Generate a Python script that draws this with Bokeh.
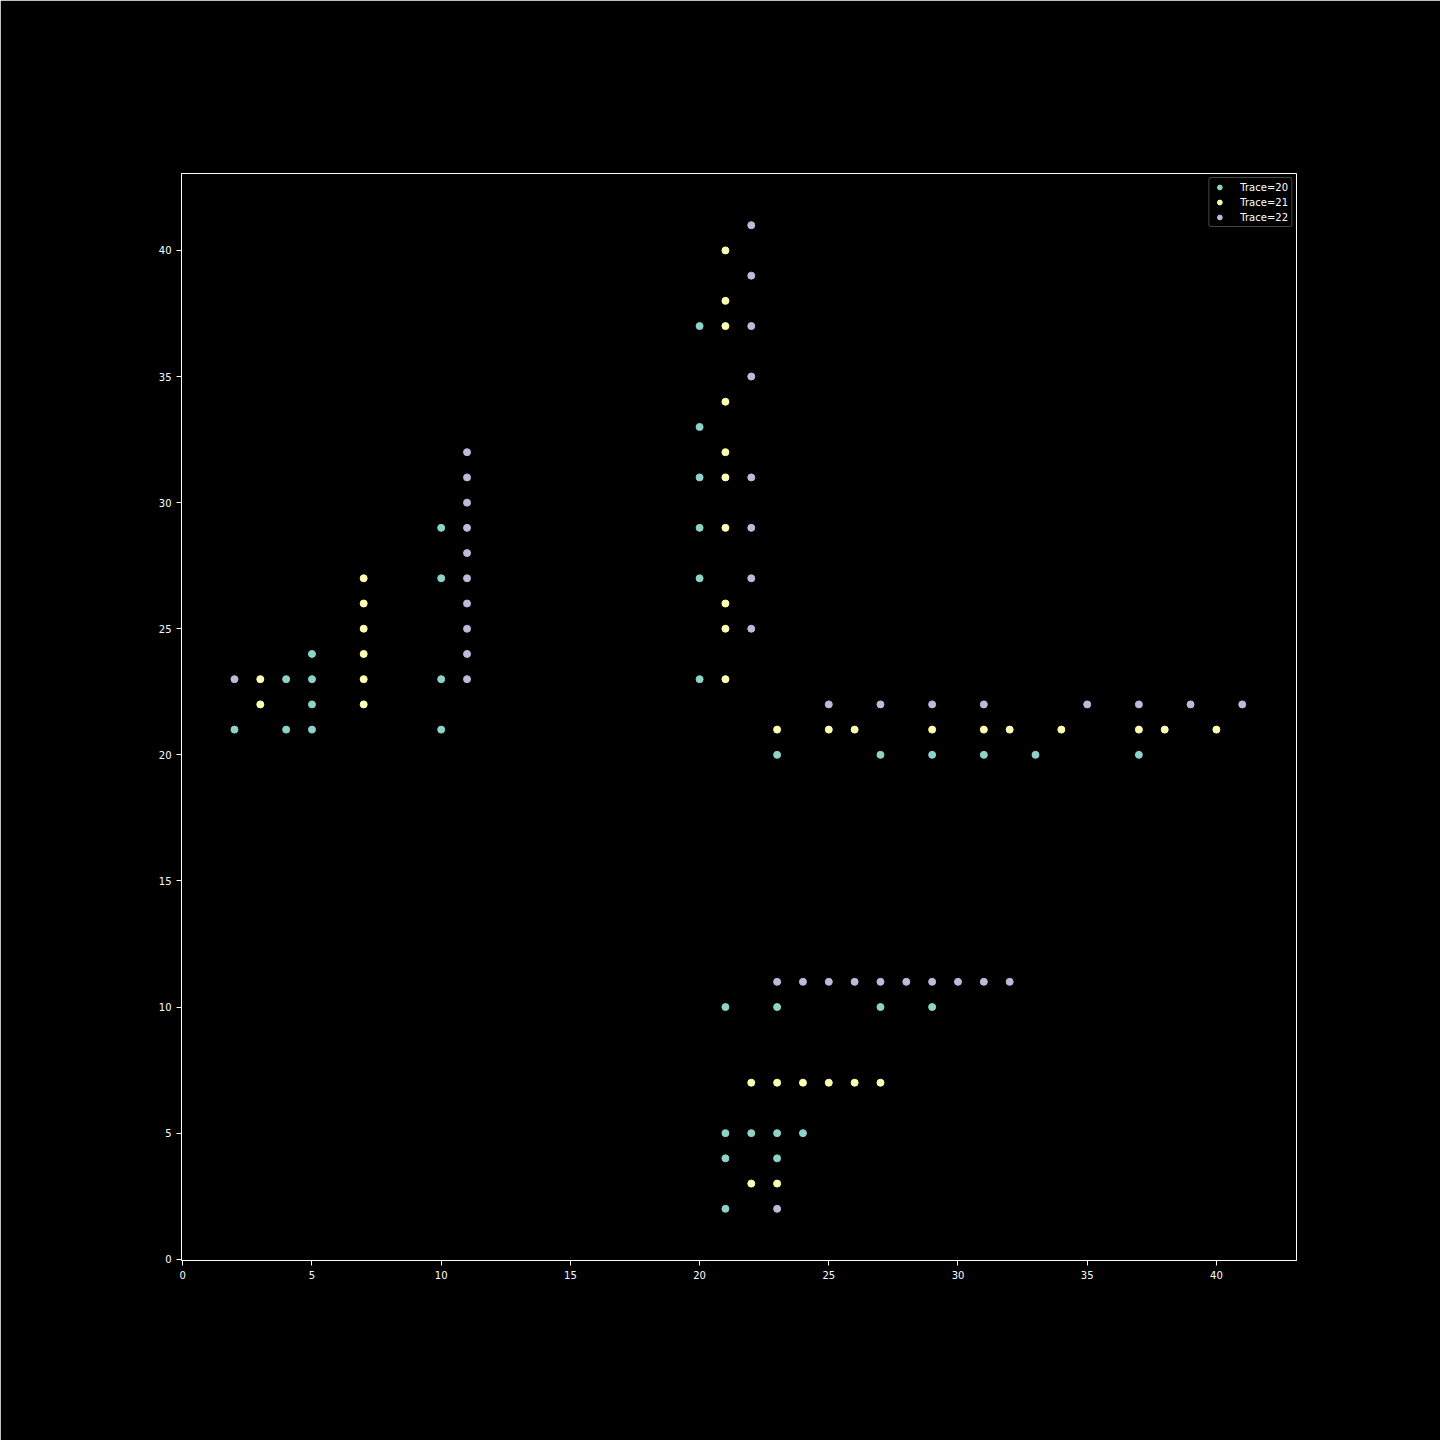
from bokeh.plotting import figure
from bokeh.models import Range1d, FixedTicker, Legend, LegendItem
from bokeh.embed import file_html
from bokeh.resources import INLINE

trace20_x = [2, 4, 4, 5, 5, 5, 5, 10, 10, 10, 10,
             20, 20, 20, 20, 20, 20,
             23, 27, 29, 31, 33, 37,
             21, 23, 27, 29, 21, 22, 23, 24, 21, 23, 21]
trace20_y = [21, 23, 21, 24, 23, 22, 21, 29, 27, 23, 21,
             37, 33, 31, 29, 27, 23,
             20, 20, 20, 20, 20, 20,
             10, 10, 10, 10, 5, 5, 5, 5, 4, 4, 2]

trace21_x = [3, 3, 7, 7, 7, 7, 7, 7,
             21, 21, 21, 21, 21, 21, 21, 21, 21, 21,
             23, 25, 26, 29, 31, 32, 34, 37, 38, 40,
             22, 23, 24, 25, 26, 27, 22, 23]
trace21_y = [23, 22, 27, 26, 25, 24, 23, 22,
             40, 38, 37, 34, 32, 31, 29, 26, 25, 23,
             21, 21, 21, 21, 21, 21, 21, 21, 21, 21,
             7, 7, 7, 7, 7, 7, 3, 3]

trace22_x = [2, 11, 11, 11, 11, 11, 11, 11, 11, 11, 11,
             22, 22, 22, 22, 22, 22, 22, 22,
             25, 27, 29, 31, 35, 37, 39, 41,
             23, 24, 25, 26, 27, 28, 29, 30, 31, 32,
             23]
trace22_y = [23, 32, 31, 30, 29, 28, 27, 26, 25, 24, 23,
             41, 39, 37, 35, 31, 29, 27, 25,
             22, 22, 22, 22, 22, 22, 22, 22,
             11, 11, 11, 11, 11, 11, 11, 11, 11, 11,
             2]

labels = ["Trace=20", "Trace=21", "Trace=22"]
colors = ["#8dd3c7", "#ffffb3", "#bebada"]
ticks = [0, 5, 10, 15, 20, 25, 30, 35, 40]

p = figure(width=1440, height=1440, output_backend="svg", toolbar_location=None,
           x_range=Range1d(-0.05, 43.1), y_range=Range1d(-0.05, 43.05),
           min_border_left=181, min_border_right=144,
           min_border_top=173, min_border_bottom=180)
p.background_fill_color = "black"
p.border_fill_color = "black"
p.outline_line_color = "white"
p.outline_line_width = 1
p.grid.visible = False

for ax in (p.xaxis[0], p.yaxis[0]):
    ax.ticker = FixedTicker(ticks=ticks)
    ax.axis_line_color = "white"
    ax.major_tick_line_color = "white"
    ax.minor_tick_line_color = None
    ax.major_tick_out = 5
    ax.major_tick_in = 0
    ax.major_label_text_color = "white"
    ax.major_label_text_font = "DejaVu Sans"
    ax.major_label_text_font_size = "10px"

renderers = []
for xs, ys, c in zip([trace20_x, trace21_x, trace22_x],
                     [trace20_y, trace21_y, trace22_y], colors):
    r = p.scatter(xs, ys, size=7, fill_color=c, line_color=c, marker="circle")
    renderers.append(r)

legend = Legend(items=[LegendItem(label=l, renderers=[r]) for l, r in zip(labels, renderers)],
                location="top_right",
                background_fill_color="black", background_fill_alpha=1,
                border_line_color="#888888", border_line_width=1,
                label_text_color="white", label_text_font="DejaVu Sans",
                label_text_font_size="10px",
                glyph_width=14, glyph_height=12, label_height=12,
                spacing=3, padding=3, margin=4, label_standoff=14,
                border_radius=3)
p.add_layout(legend)

open("out.html", "w").write(file_html(p, INLINE))
